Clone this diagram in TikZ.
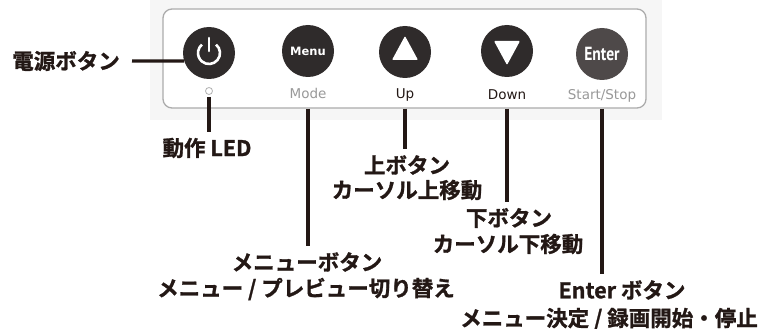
\documentclass[tikz,border=0pt]{standalone}
\usepackage{fontspec}
\newfontfamily\jp{Noto Sans CJK JP}[BoldFont={* Bold}, BoldFeatures={FakeBold=1.2}]
\newfontfamily\lab{DejaVu Sans}
\newfontfamily\cond{PT Sans}
\usetikzlibrary{calc}
\definecolor{ink}{HTML}{231815}
\definecolor{btn}{HTML}{2F2B2B}
\definecolor{btnE}{HTML}{4E4949}
\definecolor{photo}{HTML}{F6F6F6}
\begin{document}
\begin{tikzpicture}[x=1pt,y=-1pt,
  lbl/.style={font=\jp\bfseries\fontsize{21.5}{24}\selectfont, text=ink, inner sep=0pt},
  small/.style={font=\lab\fontsize{13.5}{15}\selectfont, inner sep=0pt},
  btnc/.style={circle, fill=btn, minimum size=52pt, inner sep=0pt},
  lead/.style={draw=ink, line width=3.2pt},
  icon/.style={draw=white, line width=2.6pt}]
\useasboundingbox (0,0) rectangle (764,329);
\fill[photo] (150,0) rectangle (662,120);
% panel
\node[draw=gray!65, line width=1.3pt, fill=white, rounded corners=9pt,
      minimum width=483pt, minimum height=99pt, inner sep=0pt] (panel) at (404.5,58.5) {};
% buttons
\node[btnc] (pwr) at (209,53) {};
\node[btnc] (menu) at (308,51) {\lab\bfseries\fontsize{11.5}{12}\selectfont\color{white}Menu};
\node[btnc] (up) at (405,52) {};
\node[btnc] (down) at (507,51) {};
\node[btnc, fill=btnE] (enter) at (602,54) {\cond\bfseries\fontsize{19}{19}\selectfont\color{white}\scalebox{0.82}[1]{Enter}};
% power icon
\draw[icon] ($(pwr.center)+(-50:11)$) arc[start angle=-50, end angle=230, radius=11];
\draw[icon, line cap=round] ($(pwr.center)+(0,-15)$) -- ($(pwr.center)+(0,-2)$);
% triangles
\fill[white, rounded corners=1pt] ($(up.center)+(0,-16)$) -- ($(up.center)+(-13,8)$) -- ($(up.center)+(13,8)$) -- cycle;
\fill[white, rounded corners=1pt] ($(down.center)+(0,14)$) -- ($(down.center)+(-13,-10)$) -- ($(down.center)+(13,-10)$) -- cycle;
% LED
\node[circle, draw=gray!60, line width=0.8pt, minimum size=7pt, inner sep=0pt] (led) at (209,91) {};
% small labels
\node[small, text=gray!80] (mode) at (308,93) {Mode};
\node[small, text=ink] (uplab) at (405,95) {Up};
\node[small, text=ink] (downlab) at (507,95) {Down};
\node[small, text=gray!80] (sslab) at (602,96) {Start/Stop};
% callout labels
\node[lbl, anchor=east] (pwrlab) at (120,61) {電源ボタン};
\node[lbl] (ledlab) at (207,148) {動作 LED};
\node[lbl] (upA) at (407,165) {上ボタン};
\node[lbl] (upB) at (407,190) {カーソル上移動};
\node[lbl] (downA) at (509,218) {下ボタン};
\node[lbl] (downB) at (508,244) {カーソル下移動};
\node[lbl] (menuA) at (307,262) {メニューボタン};
\node[lbl] (menuB) at (306,289) {メニュー / プレビュー切り替え};
\node[lbl] (enterA) at (622,290) {Enter ボタン};
\node[lbl] (enterB) at (609,319) {メニュー決定 / 録画開始・停止};
% leaders
\draw[lead] (pwrlab.east) ++(12,0) -- (pwr.198);
\draw[lead, shorten <=2pt, shorten >=6pt] (led.south) -- (led |- ledlab.north);
\draw[lead, shorten >=6pt] (panel.south -| menu) -- (menu |- menuA.north);
\draw[lead, shorten >=6pt] (panel.south -| up) -- (up |- upA.north);
\draw[lead, shorten >=6pt] (panel.south -| down) -- (down |- downA.north);
\draw[lead, shorten >=6pt] (panel.south -| enter) -- (enter |- enterA.north);
\end{tikzpicture}
\end{document}
